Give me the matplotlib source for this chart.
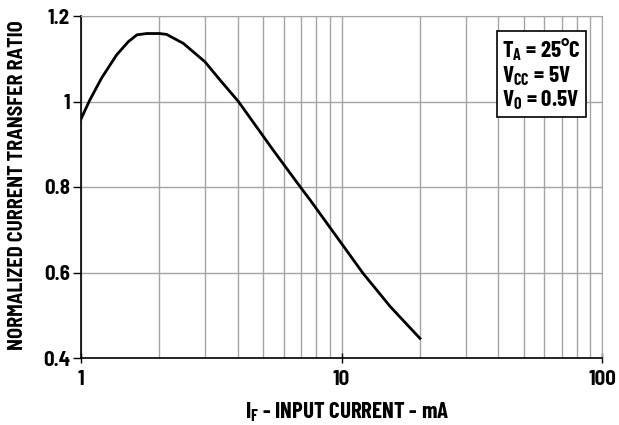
import numpy as np
import matplotlib
matplotlib.use("Agg")
import matplotlib.pyplot as plt
from matplotlib.ticker import LogLocator, NullFormatter, FixedLocator

# Curve (IF in mA, normalized CTR)
i_f = [1.0, 1.08, 1.2, 1.37, 1.52, 1.64, 1.79, 2.0, 2.13, 2.47, 2.99, 3.42,
       4.02, 5.47, 6.93, 7.57, 10.0, 12.1, 15.4, 20.0]
ctr = [0.959, 1.003, 1.055, 1.109, 1.140, 1.156, 1.159, 1.159, 1.157, 1.136,
       1.093, 1.050, 1.000, 0.886, 0.801, 0.770, 0.668, 0.598, 0.520, 0.446]

y_ticks = [0.4, 0.6, 0.8, 1.0, 1.2]
y_tick_labels = ["0.4", "0.6", "0.8", "1", "1.2"]
x_ticks = [1, 10, 100]
x_tick_labels = ["1", "10", "100"]

plt.rcParams['font.family'] = ['Barlow Condensed', 'DejaVu Sans']
plt.rcParams['font.weight'] = 'bold'
plt.rcParams['mathtext.fontset'] = 'custom'
plt.rcParams['mathtext.rm'] = 'Barlow Condensed:bold'
plt.rcParams['mathtext.default'] = 'rm'

semi = ['Barlow Semi Condensed', 'DejaVu Sans']

fig = plt.figure(figsize=(6.19, 4.25), dpi=100)
ax = fig.add_axes([81 / 619, 1 - 358 / 425, (602 - 81) / 619, (358 - 16) / 425])

ax.plot(i_f, ctr, color='black', linewidth=2.0, zorder=3)

ax.set_xscale('log')
ax.set_xlim(1, 100)
ax.set_ylim(0.4, 1.2)

ax.xaxis.set_major_locator(FixedLocator(x_ticks))
ax.set_xticklabels(x_tick_labels, family=semi, fontsize=15, fontweight='bold')
ax.xaxis.set_minor_locator(LogLocator(base=10, subs=np.arange(2, 10)))
ax.xaxis.set_minor_formatter(NullFormatter())
ax.set_yticks(y_ticks)
ax.set_yticklabels(y_tick_labels, family=semi, fontsize=15, fontweight='bold')

ax.grid(which='both', axis='x', color='#a4a4a4', linewidth=1.0)
ax.grid(which='major', axis='y', color='#a4a4a4', linewidth=1.0)
ax.tick_params(axis='y', which='major', length=6, width=1, direction='out',
               color='black', pad=2)
ax.tick_params(axis='x', which='major', length=7, width=1, direction='inout',
               color='black', pad=5)
ax.tick_params(axis='x', which='minor', length=0)

for side in ['top', 'right']:
    ax.spines[side].set_color('#a4a4a4')
for side in ['left', 'bottom']:
    ax.spines[side].set_color('black')
    ax.spines[side].set_linewidth(1.2)

fig.text(347 / 619, 1 - 418 / 425, r"$\mathregular{I_F}$ - INPUT CURRENT - mA",
         fontsize=16.5, fontweight='bold', ha='center', va='baseline')
fig.text(17.5 / 619, 1 - 185.5 / 425, "NORMALIZED CURRENT TRANSFER RATIO",
         family=semi, fontsize=14.5, fontweight='bold', rotation=90,
         ha='center', va='center')

ax.text(0.808, 0.94,
        "$\\mathregular{T_A}$ = 25°C\n$\\mathregular{V_{CC}}$ = 5V\n$\\mathregular{V_O}$ = 0.5V",
        transform=ax.transAxes, fontsize=16.5, fontweight='bold', va='top', ha='left',
        linespacing=1.05,
        bbox=dict(boxstyle='square,pad=0.22', facecolor='white', edgecolor='black', linewidth=1.2),
        zorder=5)

fig.savefig("out.png", dpi=100)
